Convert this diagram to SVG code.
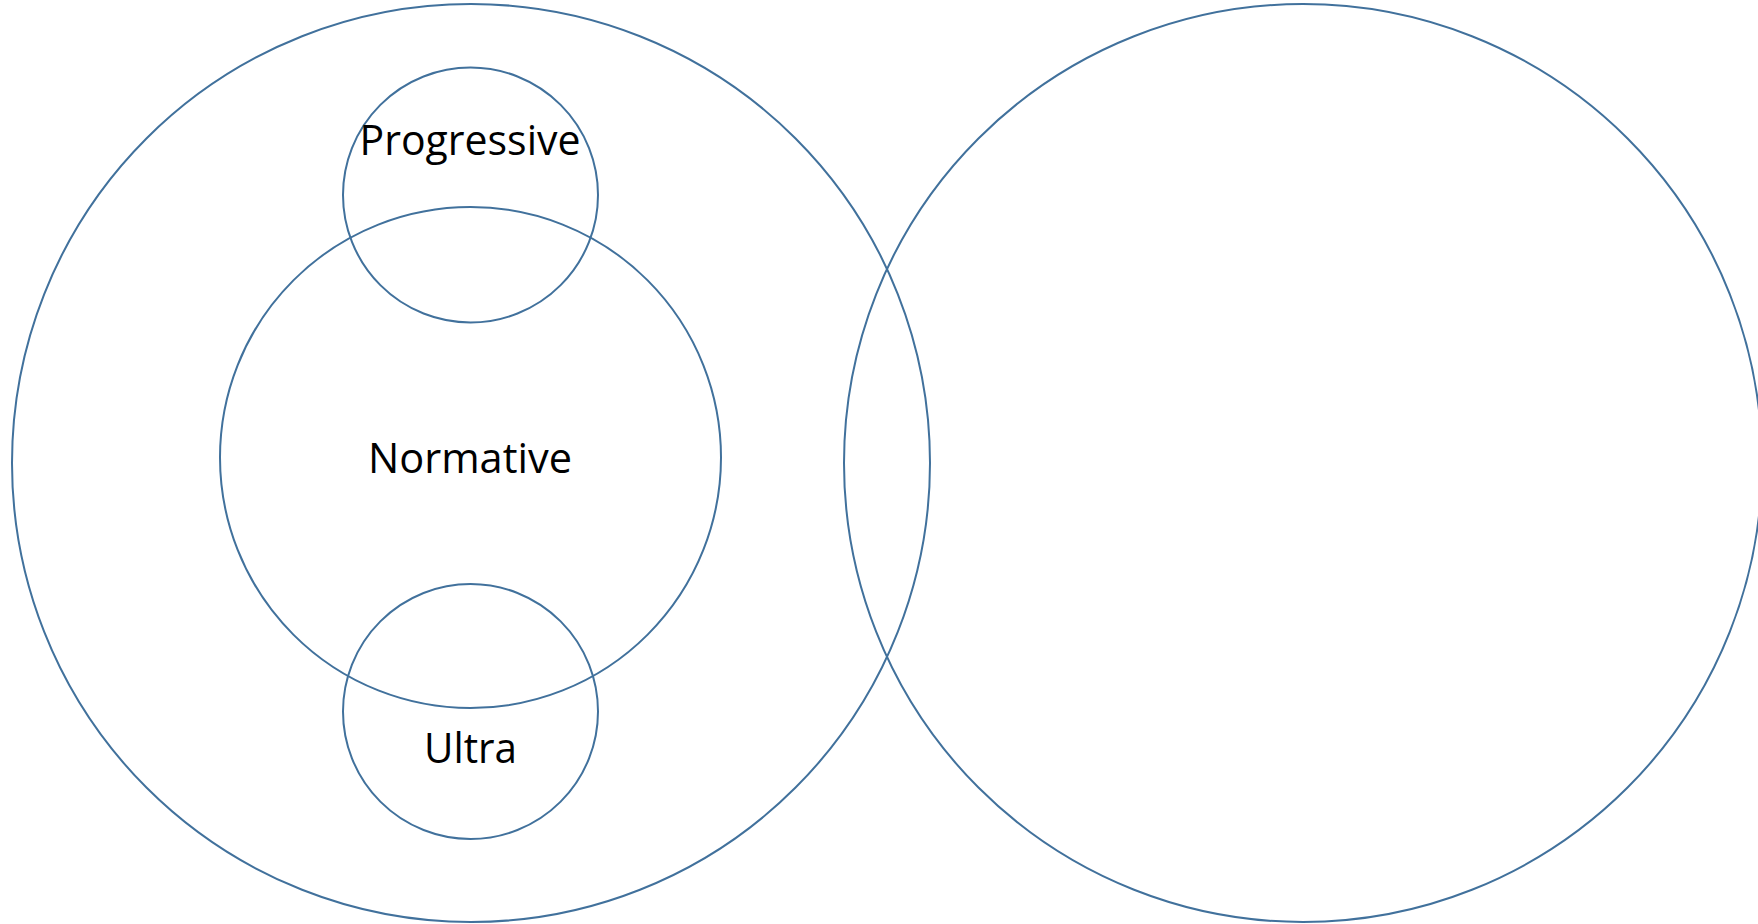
<svg xmlns="http://www.w3.org/2000/svg" width="1758" height="924" viewBox="0 0 1758 924">
<style>
.c{fill:none;stroke:#41719C;stroke-width:2}
.t{font-family:"Open Sans","Liberation Sans",sans-serif;font-size:42px;fill:#000;text-anchor:middle}
</style>
<rect width="1758" height="924" fill="#fff"/>
<g id="outer-left"><circle class="c" cx="471" cy="463" r="459"/></g>
<g id="outer-right"><circle class="c" cx="1303" cy="463" r="459"/></g>
<g id="normative"><circle class="c" cx="470.5" cy="457.5" r="250.5"/><text class="t" x="470" y="473" textLength="204" lengthAdjust="spacingAndGlyphs">Normative</text></g>
<g id="progressive"><circle class="c" cx="470.5" cy="195" r="127.5"/><text class="t" x="470" y="155" textLength="221" lengthAdjust="spacingAndGlyphs">Progressive</text></g>
<g id="ultra"><circle class="c" cx="470.5" cy="711.5" r="127.5"/><text class="t" x="470.5" y="763" textLength="93" lengthAdjust="spacingAndGlyphs">Ultra</text></g>
<g id="connectors"/>
</svg>
